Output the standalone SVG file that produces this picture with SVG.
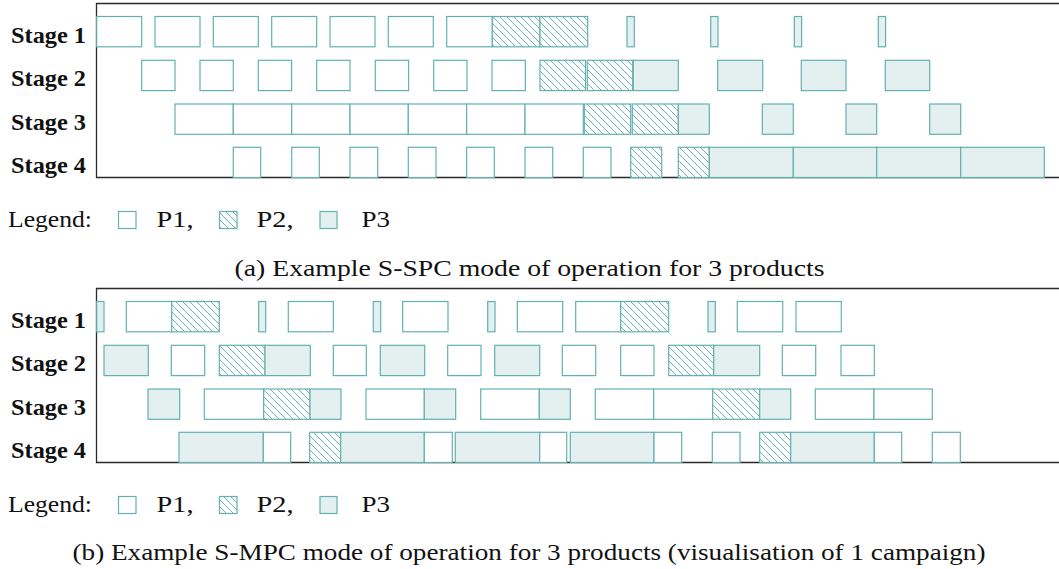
<svg xmlns="http://www.w3.org/2000/svg" width="1059" height="569" viewBox="0 0 1059 569">
  <style>
    .bar { stroke: #62b1b1; stroke-width: 1.2; }
    .p1 { fill: #ffffff; }
    .p2 { fill: url(#hatch); }
    .p3 { fill: #e3f0ef; }
    .frame { fill: none; stroke: #2a2a2a; stroke-width: 1.3; }
    .stage { font-family: "Liberation Serif", "Times New Roman", serif; font-weight: bold; font-size: 24px; fill: #111; }
    .txt { font-family: "Liberation Serif", "Times New Roman", serif; font-size: 24px; fill: #111; }
  </style>
  <defs>
    <pattern id="hatch" patternUnits="userSpaceOnUse" width="7" height="7">
      <rect width="7" height="7" fill="#ffffff"/>
      <path d="M0,0 L7,7 M-2,5 L2,9 M5,-2 L9,2" stroke="#5aabab" stroke-width="0.9"/>
    </pattern>
  </defs>

  <!-- ===== (a) S-SPC schedule ===== -->
  <g id="chart-a">
    <path class="frame" d="M1059,3.5 H96.5 V177.5 H1059"/>
    <g id="a-labels">
      <text class="stage" x="11" y="42.5" textLength="75" lengthAdjust="spacingAndGlyphs">Stage 1</text>
      <text class="stage" x="11" y="86" textLength="75" lengthAdjust="spacingAndGlyphs">Stage 2</text>
      <text class="stage" x="11" y="129.5" textLength="75" lengthAdjust="spacingAndGlyphs">Stage 3</text>
      <text class="stage" x="11" y="173" textLength="75" lengthAdjust="spacingAndGlyphs">Stage 4</text>
    </g>
    <g id="a-stage1">
      <rect class="bar p1" x="96.7" y="16.5" width="45" height="30.3"/>
      <rect class="bar p1" x="155" y="16.5" width="45" height="30.3"/>
      <rect class="bar p1" x="213.3" y="16.5" width="45" height="30.3"/>
      <rect class="bar p1" x="271.7" y="16.5" width="45" height="30.3"/>
      <rect class="bar p1" x="330" y="16.5" width="45" height="30.3"/>
      <rect class="bar p1" x="388.3" y="16.5" width="45" height="30.3"/>
      <rect class="bar p1" x="446.7" y="16.5" width="45.6" height="30.3"/>
      <rect class="bar p2" x="492.3" y="16.5" width="47.7" height="30.3"/>
      <rect class="bar p2" x="540" y="16.5" width="47.7" height="30.3"/>
      <rect class="bar p3" x="627" y="16.5" width="7.3" height="30.3"/>
      <rect class="bar p3" x="710.7" y="16.5" width="7.3" height="30.3"/>
      <rect class="bar p3" x="794.3" y="16.5" width="7.3" height="30.3"/>
      <rect class="bar p3" x="878.3" y="16.5" width="7.3" height="30.3"/>
    </g>
    <g id="a-stage2">
      <rect class="bar p1" x="141.7" y="60.3" width="33.3" height="30.3"/>
      <rect class="bar p1" x="200" y="60.3" width="33.3" height="30.3"/>
      <rect class="bar p1" x="258.3" y="60.3" width="33.3" height="30.3"/>
      <rect class="bar p1" x="316.7" y="60.3" width="33.3" height="30.3"/>
      <rect class="bar p1" x="375.3" y="60.3" width="33.3" height="30.3"/>
      <rect class="bar p1" x="433.7" y="60.3" width="33.3" height="30.3"/>
      <rect class="bar p1" x="492" y="60.3" width="33.3" height="30.3"/>
      <rect class="bar p2" x="540" y="60.3" width="45.5" height="30.3"/>
      <rect class="bar p2" x="587.3" y="60.3" width="45.4" height="30.3"/>
      <rect class="bar p3" x="633.3" y="60.3" width="45" height="30.3"/>
      <rect class="bar p3" x="717.7" y="60.3" width="45" height="30.3"/>
      <rect class="bar p3" x="801.3" y="60.3" width="44.7" height="30.3"/>
      <rect class="bar p3" x="885.3" y="60.3" width="44.4" height="30.3"/>
    </g>
    <g id="a-stage3">
      <rect class="bar p1" x="175" y="104" width="58.3" height="30.3"/>
      <rect class="bar p1" x="233.3" y="104" width="58.4" height="30.3"/>
      <rect class="bar p1" x="291.7" y="104" width="58.3" height="30.3"/>
      <rect class="bar p1" x="350" y="104" width="58.3" height="30.3"/>
      <rect class="bar p1" x="408.3" y="104" width="58.4" height="30.3"/>
      <rect class="bar p1" x="466.7" y="104" width="58.3" height="30.3"/>
      <rect class="bar p1" x="525" y="104" width="58.3" height="30.3"/>
      <rect class="bar p2" x="584.3" y="104" width="46.4" height="30.3"/>
      <rect class="bar p2" x="632.3" y="104" width="46" height="30.3"/>
      <rect class="bar p3" x="678.3" y="104" width="31" height="30.3"/>
      <rect class="bar p3" x="762.3" y="104" width="31" height="30.3"/>
      <rect class="bar p3" x="846" y="104" width="30.7" height="30.3"/>
      <rect class="bar p3" x="929.7" y="104" width="31" height="30.3"/>
    </g>
    <g id="a-stage4">
      <rect class="bar p1" x="233.3" y="147.3" width="27.4" height="30.2"/>
      <rect class="bar p1" x="291.7" y="147.3" width="27.6" height="30.2"/>
      <rect class="bar p1" x="350" y="147.3" width="27.7" height="30.2"/>
      <rect class="bar p1" x="408.3" y="147.3" width="27.7" height="30.2"/>
      <rect class="bar p1" x="466.7" y="147.3" width="27.6" height="30.2"/>
      <rect class="bar p1" x="525" y="147.3" width="27.7" height="30.2"/>
      <rect class="bar p1" x="583.3" y="147.3" width="27.7" height="30.2"/>
      <rect class="bar p2" x="630.7" y="147.3" width="31" height="30.2"/>
      <rect class="bar p2" x="678.3" y="147.3" width="31" height="30.2"/>
      <rect class="bar p3" x="709.3" y="147.3" width="84" height="30.2"/>
      <rect class="bar p3" x="793.3" y="147.3" width="83.4" height="30.2"/>
      <rect class="bar p3" x="876.7" y="147.3" width="84" height="30.2"/>
      <rect class="bar p3" x="960.7" y="147.3" width="83.6" height="30.2"/>
    </g>
    <g id="a-legend">
      <text class="txt" x="8" y="227.3" textLength="84" lengthAdjust="spacingAndGlyphs">Legend:</text>
      <rect class="bar p1" x="118.5" y="211.5" width="17.5" height="17"/>
      <text class="txt" x="156.5" y="227.3" textLength="37" lengthAdjust="spacingAndGlyphs">P1,</text>
      <rect class="bar p2" x="219.5" y="211.5" width="17.5" height="17"/>
      <text class="txt" x="256.5" y="227.3" textLength="37" lengthAdjust="spacingAndGlyphs">P2,</text>
      <rect class="bar p3" x="320" y="211.5" width="17" height="17"/>
      <text class="txt" x="361.5" y="227.3" textLength="28.5" lengthAdjust="spacingAndGlyphs">P3</text>
    </g>
    <text class="txt" x="529.5" y="276" text-anchor="middle" textLength="590" lengthAdjust="spacingAndGlyphs">(a) Example S-SPC mode of operation for 3 products</text>
  </g>

  <!-- ===== (b) S-MPC schedule, one campaign ===== -->
  <g id="chart-b">
    <path class="frame" d="M1059,288.5 H96.5 V462.5 H1059"/>
    <g id="b-labels">
      <text class="stage" x="11" y="327.5" textLength="75" lengthAdjust="spacingAndGlyphs">Stage 1</text>
      <text class="stage" x="11" y="371" textLength="75" lengthAdjust="spacingAndGlyphs">Stage 2</text>
      <text class="stage" x="11" y="414.5" textLength="75" lengthAdjust="spacingAndGlyphs">Stage 3</text>
      <text class="stage" x="11" y="458" textLength="75" lengthAdjust="spacingAndGlyphs">Stage 4</text>
    </g>
    <g id="b-stage1">
      <rect class="bar p3" x="96.7" y="301.5" width="7.3" height="30.3"/>
      <rect class="bar p1" x="126.3" y="301.5" width="45.4" height="30.3"/>
      <rect class="bar p2" x="171.7" y="301.5" width="47.6" height="30.3"/>
      <rect class="bar p3" x="258.7" y="301.5" width="7" height="30.3"/>
      <rect class="bar p1" x="288.3" y="301.5" width="45" height="30.3"/>
      <rect class="bar p3" x="373.3" y="301.5" width="7.4" height="30.3"/>
      <rect class="bar p1" x="402.7" y="301.5" width="45.3" height="30.3"/>
      <rect class="bar p3" x="487.7" y="301.5" width="7.3" height="30.3"/>
      <rect class="bar p1" x="517.3" y="301.5" width="45.4" height="30.3"/>
      <rect class="bar p1" x="575.7" y="301.5" width="45" height="30.3"/>
      <rect class="bar p2" x="620.7" y="301.5" width="48" height="30.3"/>
      <rect class="bar p3" x="708" y="301.5" width="7.3" height="30.3"/>
      <rect class="bar p1" x="737.3" y="301.5" width="45.4" height="30.3"/>
      <rect class="bar p1" x="796" y="301.5" width="45.3" height="30.3"/>
    </g>
    <g id="b-stage2">
      <rect class="bar p3" x="104" y="345.3" width="44.3" height="30.3"/>
      <rect class="bar p1" x="171.3" y="345.3" width="33.4" height="30.3"/>
      <rect class="bar p2" x="219.3" y="345.3" width="45.7" height="30.3"/>
      <rect class="bar p3" x="265" y="345.3" width="45.3" height="30.3"/>
      <rect class="bar p1" x="333.3" y="345.3" width="33" height="30.3"/>
      <rect class="bar p3" x="380.3" y="345.3" width="44.4" height="30.3"/>
      <rect class="bar p1" x="447.7" y="345.3" width="33.3" height="30.3"/>
      <rect class="bar p3" x="494.7" y="345.3" width="45" height="30.3"/>
      <rect class="bar p1" x="562.3" y="345.3" width="33.4" height="30.3"/>
      <rect class="bar p1" x="620.7" y="345.3" width="33.3" height="30.3"/>
      <rect class="bar p2" x="668.7" y="345.3" width="45" height="30.3"/>
      <rect class="bar p3" x="713.7" y="345.3" width="46" height="30.3"/>
      <rect class="bar p1" x="782.3" y="345.3" width="33.4" height="30.3"/>
      <rect class="bar p1" x="841" y="345.3" width="33.3" height="30.3"/>
    </g>
    <g id="b-stage3">
      <rect class="bar p3" x="148" y="389" width="31.7" height="30.3"/>
      <rect class="bar p1" x="204.3" y="389" width="59.4" height="30.3"/>
      <rect class="bar p2" x="263.7" y="389" width="46.3" height="30.3"/>
      <rect class="bar p3" x="310" y="389" width="31" height="30.3"/>
      <rect class="bar p1" x="366" y="389" width="58.3" height="30.3"/>
      <rect class="bar p3" x="424.3" y="389" width="31.4" height="30.3"/>
      <rect class="bar p1" x="480.7" y="389" width="58.6" height="30.3"/>
      <rect class="bar p3" x="539.3" y="389" width="31" height="30.3"/>
      <rect class="bar p1" x="595.3" y="389" width="58.4" height="30.3"/>
      <rect class="bar p1" x="653.7" y="389" width="59" height="30.3"/>
      <rect class="bar p2" x="712.7" y="389" width="47" height="30.3"/>
      <rect class="bar p3" x="759.7" y="389" width="31" height="30.3"/>
      <rect class="bar p1" x="815.3" y="389" width="58.7" height="30.3"/>
      <rect class="bar p1" x="874" y="389" width="58.3" height="30.3"/>
    </g>
    <g id="b-stage4">
      <rect class="bar p3" x="179" y="432.3" width="84.3" height="30.2"/>
      <rect class="bar p1" x="263.3" y="432.3" width="27.4" height="30.2"/>
      <rect class="bar p2" x="309.7" y="432.3" width="31" height="30.2"/>
      <rect class="bar p3" x="340.7" y="432.3" width="83.6" height="30.2"/>
      <rect class="bar p1" x="424.3" y="432.3" width="28" height="30.2"/>
      <rect class="bar p3" x="455.3" y="432.3" width="84.4" height="30.2"/>
      <rect class="bar p1" x="539.7" y="432.3" width="27" height="30.2"/>
      <rect class="bar p3" x="570.3" y="432.3" width="83.7" height="30.2"/>
      <rect class="bar p1" x="654" y="432.3" width="27.7" height="30.2"/>
      <rect class="bar p1" x="712.3" y="432.3" width="27.7" height="30.2"/>
      <rect class="bar p2" x="759.7" y="432.3" width="31" height="30.2"/>
      <rect class="bar p3" x="790.7" y="432.3" width="83.6" height="30.2"/>
      <rect class="bar p1" x="874.3" y="432.3" width="27.4" height="30.2"/>
      <rect class="bar p1" x="932.3" y="432.3" width="28" height="30.2"/>
    </g>
    <g id="b-legend">
      <text class="txt" x="8" y="512.3" textLength="84" lengthAdjust="spacingAndGlyphs">Legend:</text>
      <rect class="bar p1" x="118.5" y="496.5" width="17.5" height="17"/>
      <text class="txt" x="156.5" y="512.3" textLength="37" lengthAdjust="spacingAndGlyphs">P1,</text>
      <rect class="bar p2" x="219.5" y="496.5" width="17.5" height="17"/>
      <text class="txt" x="256.5" y="512.3" textLength="37" lengthAdjust="spacingAndGlyphs">P2,</text>
      <rect class="bar p3" x="320" y="496.5" width="17" height="17"/>
      <text class="txt" x="361.5" y="512.3" textLength="28.5" lengthAdjust="spacingAndGlyphs">P3</text>
    </g>
    <text class="txt" x="529" y="560" text-anchor="middle" textLength="913" lengthAdjust="spacingAndGlyphs">(b) Example S-MPC mode of operation for 3 products (visualisation of 1 campaign)</text>
  </g>
</svg>
